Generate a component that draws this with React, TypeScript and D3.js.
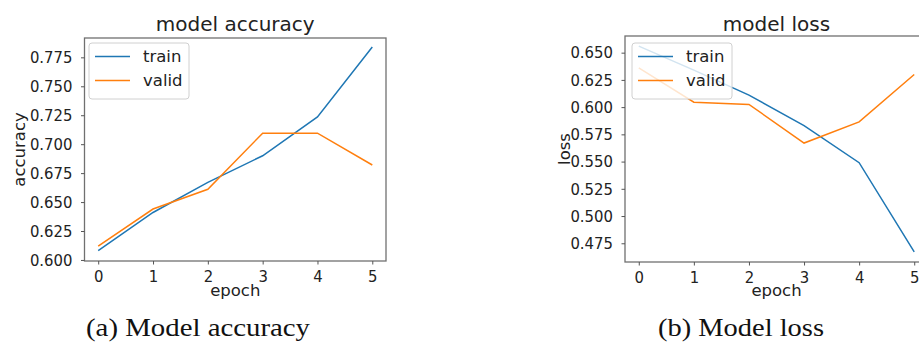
import React, { useRef, useEffect } from 'react';
import * as d3 from 'd3';

// values
const epochs = [0, 1, 2, 3, 4, 5];
const seriesNames = ['train', 'valid'];
const seriesColors = ['#1f77b4', '#ff7f0e'];

const trainAcc = [0.608, 0.641, 0.667, 0.690, 0.7235, 0.784];
const validAcc = [0.612, 0.644, 0.661, 0.7095, 0.7095, 0.682];
const accTicks = [0.6, 0.625, 0.65, 0.675, 0.7, 0.725, 0.75, 0.775];

const trainLoss = [0.656, 0.634, 0.611, 0.583, 0.549, 0.467];
const validLoss = [0.636, 0.6045, 0.6025, 0.567, 0.5865, 0.630];
const lossTicks = [0.475, 0.5, 0.525, 0.55, 0.575, 0.6, 0.625, 0.65];

const panels = [
  {
    title: 'model accuracy', ylabel: 'accuracy', caption: '(a) Model accuracy',
    series: [trainAcc, validAcc], ticks: accTicks, yDomain: [0.5991, 0.7917],
    left: 84.5, right: 386, top: 38, bottom: 261,
    ylabelX: 25, legendX: 89, legendY: 43, captionX: 198, captionW: 224,
  },
  {
    title: 'model loss', ylabel: 'loss', caption: '(b) Model loss',
    series: [trainLoss, validLoss], ticks: lossTicks, yDomain: [0.4578, 0.6653],
    left: 625, right: 928, top: 36, bottom: 262,
    ylabelX: 570, legendX: 632, legendY: 43, captionX: 741, captionW: 166,
  },
];

const font = 'DejaVu Sans, sans-serif';
const ink = '#222';
const squeeze = 0.9; // tick labels in the picture are a bit narrow

const App = () => {
  const ref = useRef<SVGSVGElement>(null);

  useEffect(() => {
    const svg = d3.select(ref.current);
    svg.selectAll('*').remove();

    panels.forEach((p) => {
      const g = svg.append('g');
      const x = d3.scaleLinear().domain([-0.25, 5.25]).range([p.left, p.right]);
      const y = d3.scaleLinear().domain(p.yDomain).range([p.bottom, p.top]);

      // lines
      const line = d3.line<number>()
        .x((d, i) => x(epochs[i]))
        .y((d) => y(d));
      p.series.forEach((s, i) => {
        g.append('path')
          .datum(s)
          .attr('fill', 'none')
          .attr('stroke', seriesColors[i])
          .attr('stroke-width', 1.5)
          .attr('d', line);
      });

      // legend (semi transparent like matplotlib)
      const lg = g.append('g').attr('transform', `translate(${p.legendX},${p.legendY})`);
      lg.append('rect')
        .attr('width', 100).attr('height', 56).attr('rx', 3)
        .attr('fill', 'white').attr('fill-opacity', 0.8)
        .attr('stroke', '#d0d0d0').attr('stroke-width', 1);
      seriesNames.forEach((name, i) => {
        const cy = 13.5 + i * 24;
        lg.append('line')
          .attr('x1', 6).attr('x2', 41).attr('y1', cy).attr('y2', cy)
          .attr('stroke', seriesColors[i]).attr('stroke-width', 1.7);
        lg.append('text')
          .attr('x', 54).attr('y', cy + 5.5)
          .attr('font-family', font).attr('font-size', 16.5).attr('fill', ink)
          .text(name);
      });

      // spines
      g.append('rect')
        .attr('x', p.left).attr('y', p.top)
        .attr('width', p.right - p.left).attr('height', p.bottom - p.top)
        .attr('fill', 'none').attr('stroke', '#707070').attr('stroke-width', 1.3);

      // axes
      const xa = g.append('g')
        .attr('transform', `translate(0,${p.bottom})`)
        .call(d3.axisBottom(x).tickValues(epochs).tickSize(3.5).tickPadding(5.5).tickFormat(d3.format('d')));
      const ya = g.append('g')
        .attr('transform', `translate(${p.left},0)`)
        .call(d3.axisLeft(y).tickValues(p.ticks).tickSize(3.5).tickPadding(8.6 / squeeze).tickFormat(d3.format('.3f')));
      [xa, ya].forEach((a) => {
        a.select('.domain').remove();
        a.selectAll('line').attr('stroke', '#555').attr('stroke-width', 1);
        a.selectAll('text').attr('font-family', font).attr('font-size', 16.5).attr('fill', ink)
          .attr('transform', `scale(${squeeze},1)`);
      });
      ya.selectAll('text').attr('x', -(3.5 + 8.6) / squeeze);

      const cx = (p.left + p.right) / 2;
      g.append('text')
        .attr('x', cx).attr('y', 31).attr('text-anchor', 'middle')
        .attr('font-family', font).attr('font-size', 20).attr('fill', ink)
        .text(p.title);
      g.append('text')
        .attr('x', cx).attr('y', 296).attr('text-anchor', 'middle')
        .attr('font-family', font).attr('font-size', 16.5).attr('fill', ink)
        .text('epoch');
      g.append('text')
        .attr('transform', `translate(${p.ylabelX},${(p.top + p.bottom) / 2}) rotate(-90)`)
        .attr('text-anchor', 'middle')
        .attr('font-family', font).attr('font-size', 16.5).attr('fill', ink)
        .text(p.ylabel);

      // figure caption under each plot
      g.append('text')
        .attr('x', p.captionX).attr('y', 336).attr('text-anchor', 'middle')
        .attr('font-family', 'Liberation Serif, serif').attr('font-size', 25).attr('fill', '#111')
        .attr('textLength', p.captionW).attr('lengthAdjust', 'spacingAndGlyphs')
        .text(p.caption);
    });
  }, []);

  return (
    <div style={{ position: 'fixed', left: 0, top: 0, width: 919, height: 347, background: 'white', overflow: 'hidden' }}>
      <svg ref={ref} width={919} height={347}></svg>
    </div>
  );
};

export default App;
